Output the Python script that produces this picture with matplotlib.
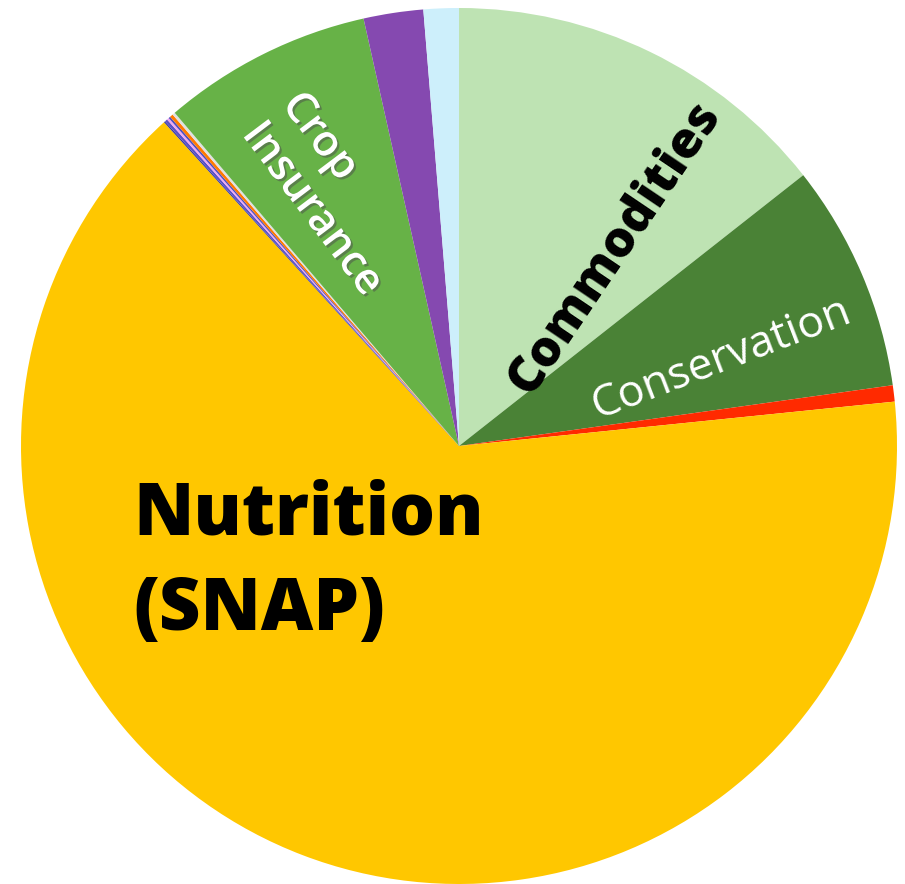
import matplotlib.pyplot as plt
import matplotlib.patheffects as pe

# slice shares (percent), clockwise from 12 o'clock
labels = ['Commodities', 'Conservation', 'Other 1', 'Nutrition (SNAP)', 'Other 2', 'Other 3',
          'Other 4', 'Other 5', 'Other 6', 'Other 7', 'Crop Insurance', 'Other 8', 'Other 9']
values = [14.4, 8.4, 0.6, 64.9, 0.05, 0.1, 0.08, 0.07, 0.12, 0.1, 7.75, 2.2, 1.3]
colors = ['#BEE3B3', '#4A8236', '#FF2A00', '#FFC700', '#3C3C9C', '#5A50C8', '#F0A8F0',
          '#4E4EC0', '#FF7A00', '#E0E0E0', '#67B247', '#8549B0', '#CDEFFB']

fig = plt.figure(figsize=(9.05, 8.84), dpi=100)
ax = fig.add_axes([21/905, 0, 876/905, 876/884])
ax.pie(values, colors=colors, startangle=90, counterclock=False, radius=1,
       wedgeprops=dict(linewidth=0))
ax.set_xlim(-1, 1)
ax.set_ylim(-1, 1)
ax.set_aspect('equal')
ax.axis('off')

font = 'Open Sans'
ax.text(-0.744, -0.203, 'Nutrition', ha='left', va='baseline', fontsize=52,
        fontweight='heavy', family=font, color='black')
ax.text(-0.744, -0.42, '(SNAP)', ha='left', va='baseline', fontsize=52,
        fontweight='heavy', family=font, color='black')
ax.text(0.356, 0.452, 'Commodities', ha='center', va='center', rotation=56,
        rotation_mode='anchor', fontsize=36, fontweight='heavy', family=font, color='black')
ax.text(0.598, 0.199, 'Conservation', ha='center', va='center', rotation=21,
        rotation_mode='anchor', fontsize=32, family=font, color='white')
ax.text(-0.29, 0.575, 'Crop\nInsurance', ha='center', va='center', rotation=-53,
        rotation_mode='anchor', fontsize=31, fontweight='semibold', family=font, color='white',
        linespacing=1.2, multialignment='left',
        path_effects=[pe.withSimplePatchShadow(offset=(1.5, -1.5), alpha=0.5)])

plt.savefig('out.png', dpi=100)
